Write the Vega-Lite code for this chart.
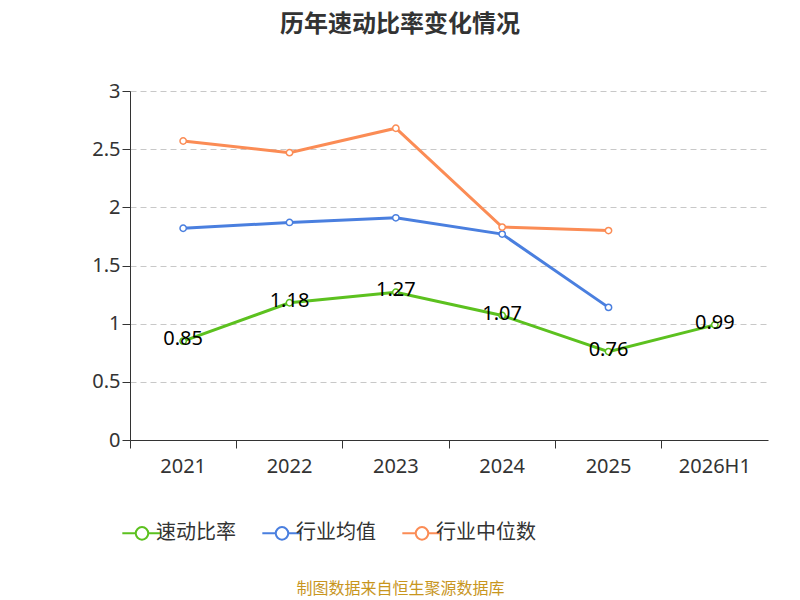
{
  "$schema": "https://vega.github.io/schema/vega-lite/v6.json",
  "autosize": "none",
  "width": 638,
  "height": 349,
  "padding": {"left": 130, "top": 91, "right": 32, "bottom": 160},
  "background": "white",
  "title": {"text": "历年速动比率变化情况", "fontSize": 24, "fontWeight": "bold", "color": "#333", "offset": 44, "dx": -49, "font": "Noto Sans CJK SC"},
  "data": {"values": [
    {"year": "2021", "series": "速动比率", "value": 0.85},
    {"year": "2022", "series": "速动比率", "value": 1.18},
    {"year": "2023", "series": "速动比率", "value": 1.27},
    {"year": "2024", "series": "速动比率", "value": 1.07},
    {"year": "2025", "series": "速动比率", "value": 0.76},
    {"year": "2026H1", "series": "速动比率", "value": 0.99},
    {"year": "2021", "series": "行业均值", "value": 1.82},
    {"year": "2022", "series": "行业均值", "value": 1.87},
    {"year": "2023", "series": "行业均值", "value": 1.91},
    {"year": "2024", "series": "行业均值", "value": 1.77},
    {"year": "2025", "series": "行业均值", "value": 1.14},
    {"year": "2021", "series": "行业中位数", "value": 2.57},
    {"year": "2022", "series": "行业中位数", "value": 2.47},
    {"year": "2023", "series": "行业中位数", "value": 2.68},
    {"year": "2024", "series": "行业中位数", "value": 1.83},
    {"year": "2025", "series": "行业中位数", "value": 1.80}
  ]},
  "encoding": {
    "x": {"field": "year", "type": "ordinal", "scale": {"type": "band", "paddingInner": 0, "paddingOuter": 0},
      "axis": {"title": "制图数据来自恒生聚源数据库", "titleColor": "#c8961e", "titleFontSize": 16, "titleFontWeight": "normal", "titlePadding": 104, "titleX": 270, "titleFont": "Noto Sans CJK SC",
        "labelAngle": 0, "labelFontSize": 20, "labelColor": "#333", "labelPadding": 8, "bandPosition": 0, "tickSize": 8, "domainColor": "#333", "tickColor": "#333", "grid": false}},
    "y": {"field": "value", "type": "quantitative", "scale": {"domain": [0, 3]},
      "axis": {"title": null, "values": [0, 0.5, 1, 1.5, 2, 2.5, 3], "format": "~g", "labelFontSize": 20, "labelColor": "#333", "domain": true, "domainColor": "#333", "tickColor": "#333", "tickSize": 8, "gridDash": [6, 4], "gridColor": "#c8c8c8"}},
    "color": {"field": "series", "type": "nominal", "scale": {"domain": ["速动比率", "行业均值", "行业中位数"], "range": ["#5cc11f", "#4a7fdf", "#fb8c55"]},
      "legend": {"title": null, "orient": "none", "direction": "horizontal", "legendX": 2, "legendY": 432, "labelFontSize": 20, "labelColor": "#333", "labelFont": "Noto Sans CJK SC", "columnPadding": 22,
        "symbolType": "M-2.2,0L-0.7,0M0.7,0A0.7,0.7 0 1 1 -0.7,0A0.7,0.7 0 1 1 0.7,0M0.7,0L2.2,0", "symbolSize": 320, "symbolStrokeWidth": 2, "symbolFillColor": "white"}}
  },
  "layer": [
    {"mark": {"type": "line", "strokeWidth": 3}},
    {"mark": {"type": "point", "filled": false, "fill": "white", "size": 40, "strokeWidth": 1.5, "opacity": 1}},
    {"transform": [{"filter": "datum.series == '速动比率'"}],
     "mark": {"type": "text", "fontSize": 20, "color": "black", "dy": -2},
     "encoding": {"text": {"field": "value", "format": ".2f"}, "color": {"value": "black"}}}
  ],
  "config": {"font": "Noto Sans", "view": {"stroke": null}}
}
